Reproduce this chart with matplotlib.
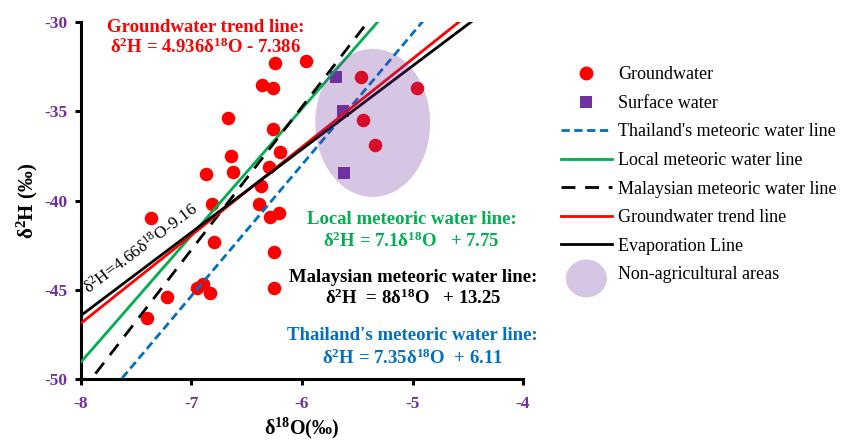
import matplotlib
matplotlib.use("Agg")
import matplotlib.pyplot as plt
import numpy as np
from matplotlib.lines import Line2D
from matplotlib.patches import Ellipse, Patch
from matplotlib.legend_handler import HandlerPatch

plt.rcParams["font.family"] = ["Liberation Serif", "DejaVu Serif"]
plt.rcParams["mathtext.fontset"] = "custom"
plt.rcParams["mathtext.rm"] = "Liberation Serif"
plt.rcParams["mathtext.default"] = "regular"
plt.rcParams["axes.unicode_minus"] = False

PURPLE = "#7030A0"
GREEN = "#00B050"
BLUE = "#0070C0"
RED = "#FF0000"

# groundwater samples (d18O, d2H)
gw_o18 = [-6.24, -5.96, -6.36, -6.26, -6.67, -6.26, -6.20, -6.64, -6.30, -6.62,
          -6.87, -6.37, -6.81, -6.39, -6.29, -6.21, -7.37, -6.80, -6.25, -6.95,
          -6.90, -6.83, -6.25, -7.22, -7.40, -5.47, -4.96, -5.45, -5.34]
gw_h2 = [-32.3, -32.2, -33.5, -33.7, -35.4, -36.0, -37.3, -37.5, -38.1, -38.4,
         -38.5, -39.2, -40.2, -40.2, -40.9, -40.7, -41.0, -42.3, -42.9, -44.9,
         -44.7, -45.2, -44.9, -45.4, -46.6, -33.1, -33.7, -35.5, -36.9]

# surface water samples
sw_o18 = [-5.69, -5.63, -5.62]
sw_h2 = [-33.1, -35.0, -38.45]

# reference lines: slope, intercept
lmwl = (7.1, 7.75)
mmwl = (8.0, 13.25)
tmwl = (7.35, 6.11)
gw_trend = (4.936, -7.386)
evap = (4.66, -9.16)

# non-agricultural area outline: centre, width, height
area_xy = (-5.36, -35.65)
area_w, area_h = 1.04, 8.3

fig = plt.figure(figsize=(8.56, 4.42), dpi=100)
ax = fig.add_axes([0.0946, 0.1425, 0.5164, 0.8075])

ax.scatter(gw_o18, gw_h2, s=95, color=RED, zorder=2, linewidths=0)
ax.scatter(sw_o18, sw_h2, s=80, marker="s", color=PURPLE, zorder=2, linewidths=0)

LW = 2.0
xs = np.array([-8.0, -4.0])
ax.plot(xs, tmwl[0] * xs + tmwl[1], color=BLUE, lw=LW, dashes=(3, 1.6), zorder=3)
ax.plot(xs, lmwl[0] * xs + lmwl[1], color=GREEN, lw=LW, zorder=3)
ax.plot(xs, mmwl[0] * xs + mmwl[1], color="black", lw=LW, dashes=(5, 3.5), zorder=3)
ax.plot(xs, gw_trend[0] * xs + gw_trend[1], color=RED, lw=LW, zorder=3)
ax.plot(xs, evap[0] * xs + evap[1], color="black", lw=LW, zorder=3)

ax.add_patch(Ellipse(area_xy, area_w, area_h, facecolor=PURPLE, alpha=0.28,
                     edgecolor="none", zorder=4))

ax.set_xlim(-8, -4)
ax.set_ylim(-50, -30)
ax.set_xticks([-8, -7, -6, -5, -4])
ax.set_yticks([-50, -45, -40, -35, -30])
for side in ("top", "right"):
    ax.spines[side].set_visible(False)
for side in ("left", "bottom"):
    ax.spines[side].set_linewidth(2.2)
ax.tick_params(width=2.2, length=4, labelsize=12.5, labelcolor=PURPLE)
ax.tick_params(axis="x", pad=8)
ax.tick_params(axis="y", pad=6)
for lab in ax.get_xticklabels() + ax.get_yticklabels():
    lab.set_fontweight("bold")

ax.set_xlabel(r"δ$^{18}$O(‰)", fontsize=14.5, fontweight="bold", labelpad=3)
ax.set_ylabel(r"δ$^{2}$H (‰)", fontsize=15, fontweight="bold", labelpad=3)

bold = dict(fontsize=13.5, fontweight="bold", ha="center", va="center")
ax.text(-6.87, -30.28, "Groundwater trend line:", color=RED, **bold)
ax.text(-6.87, -31.4, r"δ$^{2}$H = 4.936δ$^{18}$O - 7.386", color=RED, **bold)
ax.text(-5.01, -41.08, "Local meteoric water line:", color=GREEN, **bold)
ax.text(-5.01, -42.31, r"δ$^{2}$H = 7.1δ$^{18}$O   + 7.75", color=GREEN, **bold)
ax.text(-4.99, -44.33, "Malaysian meteoric water line:", color="black", **bold)
ax.text(-4.99, -45.5, r"δ$^{2}$H  = 8δ$^{18}$O   + 13.25", color="black", **bold)
ax.text(-5.0, -47.57, "Thailand's meteoric water line:", color=BLUE, **bold)
ax.text(-5.0, -48.86, r"δ$^{2}$H = 7.35δ$^{18}$O  + 6.11", color=BLUE, **bold)
ax.text(-7.46, -42.7, r"δ$^{2}$H=4.66δ$^{18}$O-9.16", fontsize=12.5, rotation=37,
        ha="center", va="center", rotation_mode="anchor")


class HandlerEllipse(HandlerPatch):
    def create_artists(self, legend, orig_handle, xdescent, ydescent,
                       width, height, fontsize, trans):
        e = Ellipse((width / 2 - xdescent, height / 2 - ydescent - 4),
                    width * 0.8, height * 3.0)
        self.update_prop(e, orig_handle, legend)
        e.set_transform(trans)
        return [e]


handles = [
    Line2D([], [], ls="none", marker="o", ms=10, color=RED, mew=0),
    Line2D([], [], ls="none", marker="s", ms=9, color=PURPLE, mew=0),
    Line2D([], [], color=BLUE, lw=LW, dashes=(3, 1.6)),
    Line2D([], [], color=GREEN, lw=LW),
    Line2D([], [], color="black", lw=LW, dashes=(5, 3.5)),
    Line2D([], [], color=RED, lw=LW),
    Line2D([], [], color="black", lw=LW),
    Patch(facecolor=PURPLE, alpha=0.28, edgecolor="none"),
]
labels = ["Groundwater", "Surface water", "Thailand's meteoric water line",
          "Local meteoric water line", "Malaysian meteoric water line",
          "Groundwater trend line", "Evaporation Line", "Non-agricultural areas"]
leg = fig.legend(handles, labels, loc="upper left", bbox_to_anchor=(0.655, 0.85),
                 frameon=False, fontsize=13, handlelength=2.85, handletextpad=0.35,
                 labelspacing=0.64, borderpad=0, borderaxespad=0,
                 handler_map={Patch: HandlerEllipse()})

fig.savefig("out.png", dpi=100)
